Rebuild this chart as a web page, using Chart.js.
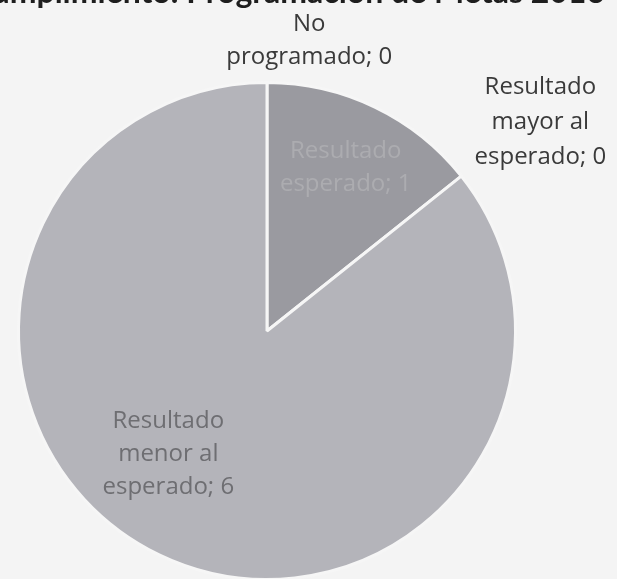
<!DOCTYPE html>
<html>
<head>
<meta charset="utf-8">
<script src="https://cdn.jsdelivr.net/npm/chart.js@4"></script>
<style>
  html, body { margin: 0; padding: 0; background: #f4f4f4; overflow: hidden; }
  #wrap { position: relative; width: 617px; height: 579px; overflow: hidden; }
  #c { position: absolute; left: 0; top: 0; }
  #title { position: absolute; right: 12px; top: -25px; white-space: nowrap;
           font: bold 32px/32px Lato, "Open Sans", sans-serif; color: #1e1e1e; }
</style>
</head>
<body>
<div id="wrap">
  <canvas id="c" width="617" height="600"></canvas>
  <div id="title"></div>
</div>
<script>
const titleText = "Gráfica 3. Cumplimiento. Programación de Metas 2016";
const categories = ["No programado", "Resultado mayor al esperado", "Resultado esperado", "Resultado menor al esperado"];
const labelLines = [["No", "programado; 0"], ["Resultado", "mayor al", "esperado; 0"], ["Resultado", "esperado; 1"], ["Resultado", "menor al", "esperado; 6"]];
const values = [0, 0, 1, 6];
const colors = ["#8c8c92", "#d0d0d4", "#9a9aa0", "#b4b4ba"];

document.getElementById('title').textContent = titleText;

// label placement relative to pie centre / radius
const labelPlace = [
  {outside: true, dx: 0.17, dy: -1.17, color: "#3a3a3a"},
  {outside: true, dx: 1.10, dy: -0.84, color: "#3a3a3a"},
  {angleOff: 0, rf: 0.73, color: "#acacb0"},
  {angleOff: 13, rf: 0.635, color: "#6e6e72"}
];

const labelPlugin = {
  id: 'sliceLabels',
  afterDatasetsDraw(chart) {
    const ctx = chart.ctx;
    const meta = chart.getDatasetMeta(0);
    ctx.save();
    ctx.font = '24px "Open Sans"';
    ctx.textAlign = 'center';
    ctx.textBaseline = 'middle';
    meta.data.forEach((arc, i) => {
      const p = labelPlace[i];
      const lh = (i === 1) ? 35 : 33;
      const R = arc.outerRadius;
      let x, y;
      if (p.outside) {
        x = arc.x + p.dx * R;
        y = arc.y + p.dy * R;
      } else {
        const mid = (arc.startAngle + arc.endAngle) / 2 + p.angleOff * Math.PI / 180;
        x = arc.x + Math.cos(mid) * R * p.rf;
        y = arc.y + Math.sin(mid) * R * p.rf;
      }
      const lines = labelLines[i];
      ctx.fillStyle = p.color;
      lines.forEach((t, k) => {
        ctx.fillText(t, x, y + (k - (lines.length - 1) / 2) * lh);
      });
    });
    ctx.restore();
  }
};

new Chart(document.getElementById('c'), {
  type: 'pie',
  data: {
    labels: categories,
    datasets: [{
      data: values,
      backgroundColor: colors,
      borderColor: "#f6f6f6",
      borderWidth: 3,
      hoverOffset: 0
    }]
  },
  options: {
    responsive: false,
    animation: false,
    events: [],
    layout: { padding: { left: 0, right: 83, top: 81, bottom: 19 } },
    plugins: {
      legend: { display: false },
      tooltip: { enabled: false },
      title: { display: false }
    }
  },
  plugins: [labelPlugin]
});
</script>
</body>
</html>
